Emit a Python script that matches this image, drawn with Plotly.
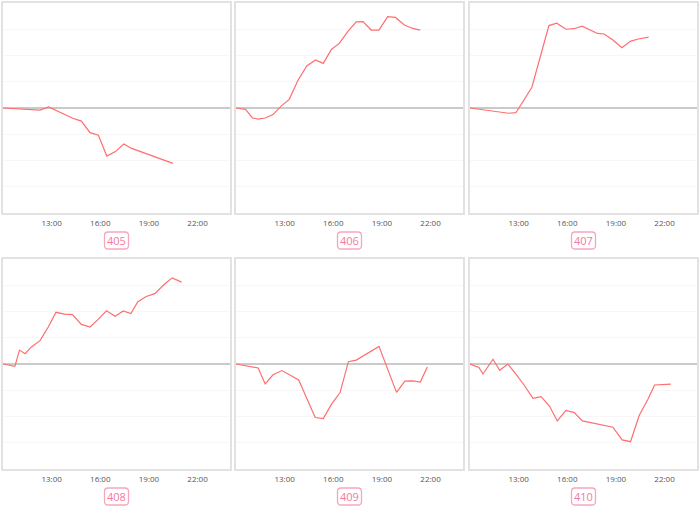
import plotly.graph_objects as go

DAY = "2024-01-01 "
panel_names = ["405", "406", "407", "408", "409", "410"]

t405 = ["10:00", "12:17", "12:49", "14:18", "14:50", "15:22", "15:53", "16:24", "16:56", "17:27", "17:56", "20:29"]
v405 = [0, -0.08, 0.04, -0.39, -0.5, -0.94, -1.04, -1.83, -1.66, -1.37, -1.54, -2.11]

t406 = ["10:00", "10:35", "11:01", "11:22", "11:48", "12:17", "12:48", "13:17", "13:50", "14:22", "14:54", "15:23",
        "15:53", "16:22", "16:55", "17:25", "17:50", "18:20", "18:49", "19:21", "19:50", "20:23", "20:54", "21:22"]
v406 = [0, -0.05, -0.38, -0.42, -0.38, -0.25, 0.08, 0.33, 1.07, 1.6, 1.83, 1.70,
        2.23, 2.46, 2.93, 3.28, 3.29, 2.97, 2.97, 3.48, 3.45, 3.16, 3.03, 2.97]

t407 = ["10:00", "12:23", "12:50", "13:49", "14:52", "15:21", "15:55", "16:25", "16:55", "17:26", "17:52", "18:16",
        "18:49", "19:22", "19:53", "20:23", "21:01"]
v407 = [0, -0.2, -0.18, 0.79, 3.14, 3.23, 3.0, 3.02, 3.12, 2.95, 2.84, 2.82,
        2.59, 2.30, 2.54, 2.63, 2.70]

t408 = ["10:00", "10:44", "11:01", "11:22", "11:45", "12:17", "12:48", "13:16", "13:48", "14:17", "14:50", "15:22",
        "15:52", "16:23", "16:55", "17:25", "17:53", "18:19", "18:50", "19:22", "19:56", "20:26", "21:01"]
v408 = [0, -0.09, 0.53, 0.39, 0.65, 0.89, 1.42, 1.97, 1.90, 1.88, 1.51, 1.41,
        1.70, 2.03, 1.82, 2.02, 1.92, 2.37, 2.57, 2.68, 3.03, 3.28, 3.12]

t409 = ["10:00", "11:22", "11:48", "12:17", "12:50", "13:20", "13:52", "14:53", "15:23", "15:53", "16:25", "16:56",
        "17:25", "18:49", "19:54", "20:25", "20:54", "21:22", "21:48"]
v409 = [0, -0.15, -0.76, -0.41, -0.25, -0.42, -0.61, -2.04, -2.08, -1.54, -1.09, 0.09,
        0.15, 0.67, -1.08, -0.65, -0.64, -0.69, -0.11]

t410 = ["10:00", "10:33", "10:48", "11:25", "11:50", "12:20", "12:50", "13:20", "13:53", "14:23", "14:54", "15:23",
        "15:55", "16:26", "16:56", "18:49", "19:23", "19:54", "20:26", "20:58", "21:23", "22:23"]
v410 = [0, -0.13, -0.38, 0.18, -0.24, 0, -0.39, -0.80, -1.31, -1.24, -1.60, -2.17,
        -1.77, -1.85, -2.17, -2.41, -2.89, -2.96, -1.96, -1.35, -0.80, -0.77]

tick_labels = ["13:00", "16:00", "19:00", "22:00"]

series = [(t405, v405), (t406, v406), (t407, v407), (t408, v408), (t409, v409), (t410, v410)]

W, H = 700, 511
col_px = [(3, 230), (236, 463), (470, 697)]
row_px = [(3, 213), (259, 469)]

fig = go.Figure()
shapes = []
annotations = []


def rounded_box(x0, y0, x1, y1, r):
    def px(x):
        return x / W

    def py(y):
        return 1 - y / H
    return (f"M {px(x0 + r)},{py(y0)} L {px(x1 - r)},{py(y0)} Q {px(x1)},{py(y0)} {px(x1)},{py(y0 + r)} "
            f"L {px(x1)},{py(y1 - r)} Q {px(x1)},{py(y1)} {px(x1 - r)},{py(y1)} "
            f"L {px(x0 + r)},{py(y1)} Q {px(x0)},{py(y1)} {px(x0)},{py(y1 - r)} "
            f"L {px(x0)},{py(y0 + r)} Q {px(x0)},{py(y0)} {px(x0 + r)},{py(y0)} Z")


for i, (name, (ts, vs)) in enumerate(zip(panel_names, series)):
    r, c = divmod(i, 3)
    idx = "" if i == 0 else str(i + 1)
    xa, ya = "xaxis" + idx, "yaxis" + idx
    fig.add_trace(go.Scatter(
        x=[DAY + t for t in ts], y=vs, mode="lines",
        line=dict(color="#ff6e6e", width=1.2),
        xaxis="x" + idx, yaxis="y" + idx, showlegend=False, hoverinfo="skip"))
    cx0, cx1 = col_px[c]
    ry0, ry1 = row_px[r]
    fig.layout[xa] = dict(
        domain=[cx0 / W, cx1 / W], anchor="y" + idx,
        type="date", range=[DAY + "10:00", "2024-01-02 00:00"],
        tickvals=[DAY + t for t in tick_labels], ticktext=tick_labels,
        showgrid=False, zeroline=False,
        showline=True, mirror=True, linecolor="#e2e2e2", linewidth=1.5,
        ticks="", ticklabelstandoff=2,
        tickfont=dict(family="Open Sans", size=8, color="#555555"),
        fixedrange=True)
    fig.layout[ya] = dict(
        domain=[1 - ry1 / H, 1 - ry0 / H], anchor="x" + idx,
        range=[-4, 4], dtick=1, showticklabels=False,
        showgrid=True, gridcolor="#f7f7f7", gridwidth=1,
        zeroline=True, zerolinecolor="#cacaca", zerolinewidth=1.5,
        showline=True, mirror=True, linecolor="#e2e2e2", linewidth=1.5,
        fixedrange=True)
    mx = (cx0 + cx1) / 2
    by = ry1 + 27.5
    shapes.append(dict(type="path", xref="paper", yref="paper",
                       path=rounded_box(mx - 12, by - 8.5, mx + 12, by + 8.5, 3.5),
                       line=dict(color="#f7a6c0", width=1.3), fillcolor="white", layer="above"))
    annotations.append(dict(text=name, xref="paper", yref="paper", x=mx / W, y=1 - by / H,
                            showarrow=False, xanchor="center", yanchor="middle",
                            font=dict(family="Open Sans", size=11, color="#f27aa0")))

fig.update_layout(width=W, height=H, margin=dict(l=0, r=0, t=0, b=0),
                  paper_bgcolor="white", plot_bgcolor="white",
                  shapes=shapes, annotations=annotations)
fig.write_html("out.html", config={"displayModeBar": False},
               post_script="document.body.style.margin='0';document.body.style.overflow='hidden';")
